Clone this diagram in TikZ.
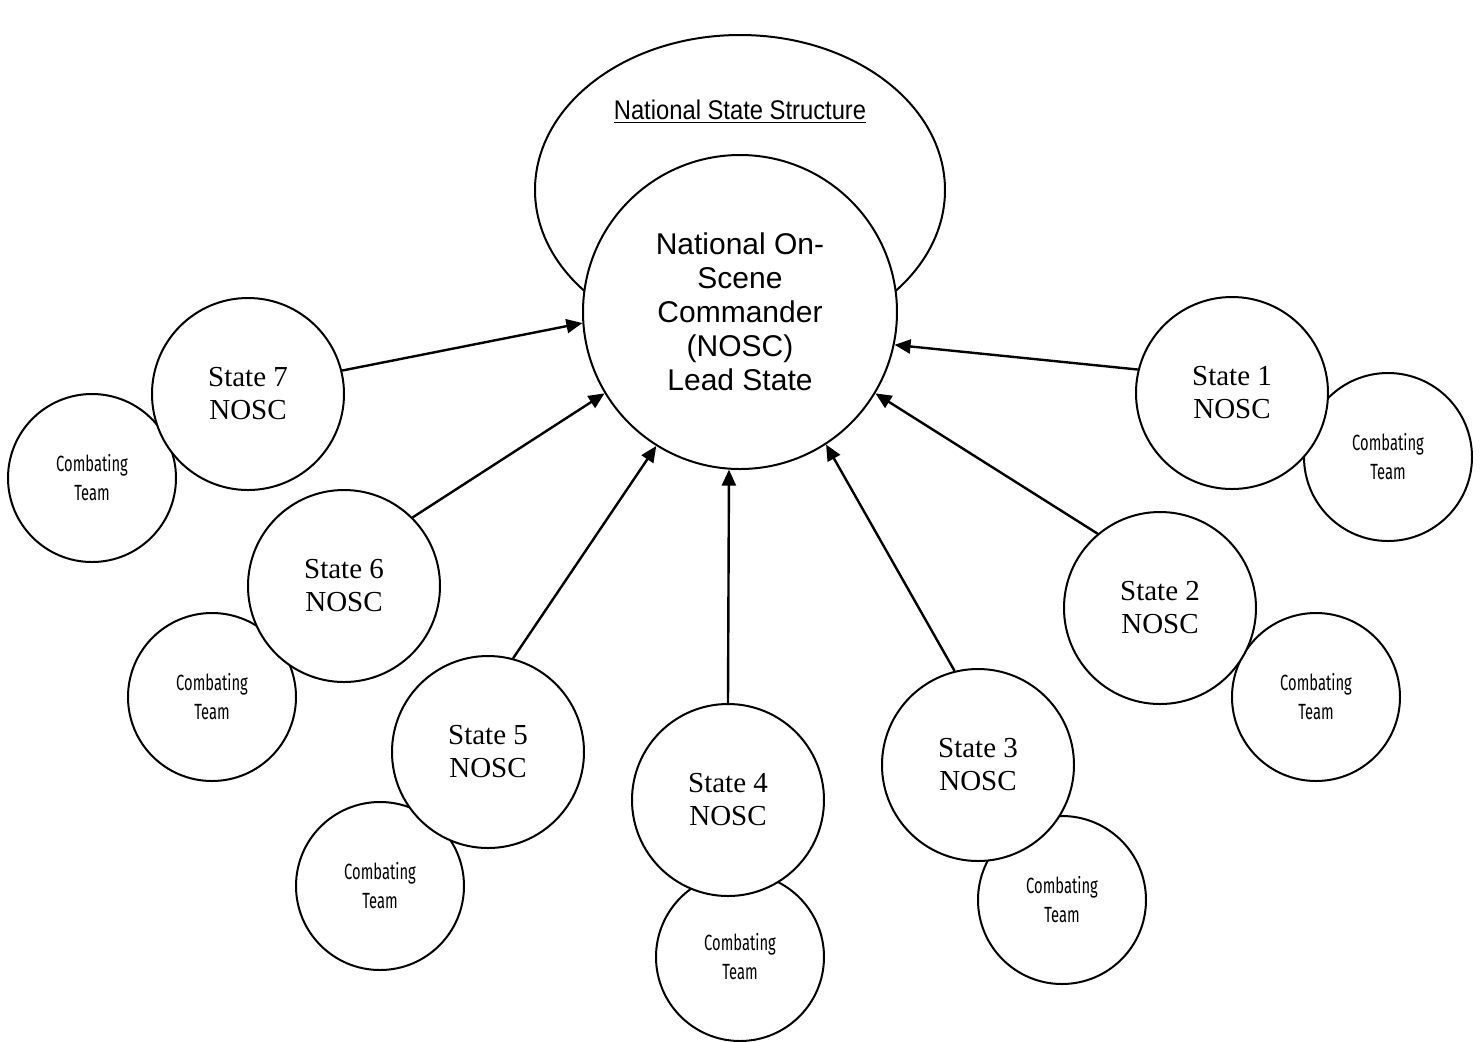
\documentclass[tikz,border=0pt]{standalone}
\usepackage{fontspec}
\setmainfont{Liberation Serif}
\newfontfamily\leadfont{Liberation Sans}
\newfontfamily\titlefont[FakeStretch=0.88]{Liberation Sans}
\newfontfamily\teamfont[FakeStretch=0.67]{Fira Sans}
\usetikzlibrary{arrows.meta,shapes.geometric}
\tikzset{>={Triangle[length=8pt,width=7pt]}}
\tikzset{
  statecircle/.style={circle,draw,fill=white,line width=1pt,
    minimum size=96pt,inner sep=0pt,align=center,
    font=\fontsize{14.5}{16.5}\selectfont},
  teamcircle/.style={circle,draw,fill=white,line width=1pt,
    minimum size=84pt,inner sep=0pt,align=center,
    font=\teamfont\fontsize{11}{14.5}\selectfont},
  feed/.style={->,line width=1.2pt}
}

\begin{document}
\begin{tikzpicture}[x=0.5pt,y=-0.5pt]
\useasboundingbox (0,0) rectangle (1480,1041);

\node[ellipse,draw,line width=1pt,minimum width=205pt,minimum height=155pt]
  (nss) at (740,190) {};
\node[font=\titlefont\fontsize{13.5}{15}\selectfont] (nsstitle) at (740,112)
  {\underline{National State Structure}};
\node[circle,draw,fill=white,line width=1pt,minimum size=157pt,inner sep=0pt,
  align=center,font=\leadfont\fontsize{15}{17}\selectfont] (lead) at (740,312)
  {National On-\\Scene\\Commander\\(NOSC)\\Lead State};

% combating teams sit behind the state circles
\node[teamcircle] (t1) at (1388,457) {Combating\\Team};
\node[teamcircle] (t2) at (1316,697) {Combating\\Team};
\node[teamcircle] (t3) at (1062,900) {Combating\\Team};
\node[teamcircle] (t4) at (740,957) {Combating\\Team};
\node[teamcircle] (t5) at (380,886) {Combating\\Team};
\node[teamcircle] (t6) at (212,697) {Combating\\Team};
\node[teamcircle] (t7) at (92,478) {Combating\\Team};

\node[statecircle] (s1) at (1232,393) {State 1\\NOSC};
\node[statecircle] (s2) at (1160,608) {State 2\\NOSC};
\node[statecircle] (s3) at (978,765) {State 3\\NOSC};
\node[statecircle] (s4) at (728,800) {State 4\\NOSC};
\node[statecircle] (s5) at (488,752) {State 5\\NOSC};
\node[statecircle] (s6) at (344,586) {State 6\\NOSC};
\node[statecircle] (s7) at (248,394) {State 7\\NOSC};

\draw[feed] (s1.166) -- (lead.348);
\draw[feed] (s2.130) -- (lead.329);
\draw[feed] (s3.104) -- (lead.303);
\draw[feed] (s4.90) -- (lead.266);
\draw[feed] (s5.75) -- (lead.238);
\draw[feed] (s6.45) -- (lead.211);
\draw[feed] (s7.14) -- (lead.184);
\end{tikzpicture}
\end{document}
